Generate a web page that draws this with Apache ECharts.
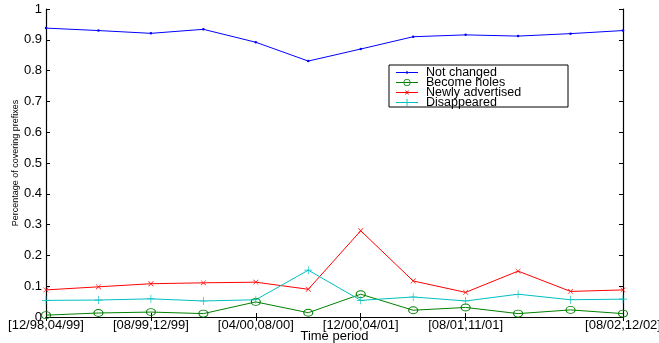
<!DOCTYPE html>
<html><head><meta charset="utf-8">
<script src="https://cdn.jsdelivr.net/npm/echarts@6/dist/echarts.min.js"></script>
<style>html,body{margin:0;padding:0;background:#fff}#c{width:659px;height:343px}</style>
</head><body><div id="c"></div>
<script>
const periods = ['1','2','3','4','5','6','7','8','9','10','11','12'];
const tickIndex = [0, 2, 4, 6, 8, 11];
const tickLabels = ['[12/98,04/99]', '[08/99,12/99]', '[04/00,08/00]', '[12/00,04/01]', '[08/01,11/01]', '[08/02,12/02]'];
const notChanged = [0.938, 0.930, 0.921, 0.934, 0.892, 0.831, 0.870, 0.910, 0.916, 0.912, 0.920, 0.930];
const becomeHoles = [0.006, 0.013, 0.016, 0.011, 0.049, 0.014, 0.074, 0.022, 0.031, 0.011, 0.023, 0.011];
const newlyAdvertised = [0.088, 0.098, 0.108, 0.111, 0.113, 0.090, 0.280, 0.117, 0.080, 0.149, 0.083, 0.088];
const disappeared = [0.054, 0.055, 0.059, 0.052, 0.056, 0.152, 0.054, 0.065, 0.052, 0.074, 0.056, 0.058];
const yTicks = ['0','0.1','0.2','0.3','0.4','0.5','0.6','0.7','0.8','0.9','1'];

const plus = 'path://M4.6,0 L5.4,0 L5.4,4.6 L10,4.6 L10,5.4 L5.4,5.4 L5.4,10 L4.6,10 L4.6,5.4 L0,5.4 L0,4.6 L4.6,4.6 Z';
// legend icons drawn in a 22x8 box (corner specks fix the bounding box)
const box = 'M0,0 L0.01,0 L0,0.01 Z M22,8 L21.99,8 L22,7.99 Z ';
const iconDot = 'path://' + box + 'M0,3.5 L9.8,3.5 L9.8,4.5 L0,4.5 Z M12.2,3.5 L22,3.5 L22,4.5 L12.2,4.5 Z M9.8,4 A1.2,1.2 0 1 0 12.2,4 A1.2,1.2 0 1 0 9.8,4 Z';
const iconRing = 'path://' + box + 'M0,3.5 L7.5,3.5 L7.5,4.5 L0,4.5 Z M14.5,3.5 L22,3.5 L22,4.5 L14.5,4.5 Z M8.3,3.5 L13.7,3.5 L13.7,4.5 L8.3,4.5 Z M7.5,4 A3.5,3.5 0 1 0 14.5,4 A3.5,3.5 0 1 0 7.5,4 Z M8.3,4 A2.7,2.7 0 1 1 13.7,4 A2.7,2.7 0 1 1 8.3,4 Z';
const iconX = 'path://' + box + 'M0,3.5 L10.4,3.5 L10.4,4.5 L0,4.5 Z M11.6,3.5 L22,3.5 L22,4.5 L11.6,4.5 Z ' +
  'M12.9,2.1 L11.64,4 L12.9,5.9 L12.5,6.3 L11,4.64 L9.5,6.3 L9.1,5.9 L10.36,4 L9.1,2.1 L9.5,1.7 L11,3.36 L12.5,1.7 Z';
const iconPlus = 'path://' + box + 'M0,3.55 L22,3.55 L22,4.45 L0,4.45 Z M10.55,0.5 L11.45,0.5 L11.45,3.55 L10.55,3.55 Z M10.55,4.45 L11.45,4.45 L11.45,7.5 L10.55,7.5 Z';

const font = 'Liberation Sans';
const chart = echarts.init(document.getElementById('c'));
const axisLine = {show: true, lineStyle: {color: '#000', width: 1.2}};
const tick = {show: true, inside: true, length: 4, lineStyle: {color: '#000'}};
const colors = ['#0000ff', '#008000', '#ff0000', '#00bfbf'];
chart.setOption({
  animation: false,
  textStyle: {fontFamily: font},
  grid: {left: 46, right: 36, top: 9, bottom: 26, outerBoundsMode: 'none', containLabel: false},
  graphic: [{type: 'rect', shape: {x: 389, y: 65, width: 179, height: 42}, style: {fill: '#fff', stroke: '#000', lineWidth: 1}, z: 100}],
  legend: {
    orient: 'vertical', left: 394, top: 66, itemGap: -3, itemWidth: 22, itemHeight: 8, padding: [0, 2],
    textStyle: {fontSize: 12.5, color: '#000', fontFamily: font, padding: [0, 0, 0, 3]}, z: 101,
    data: [
      {name: 'Not changed', icon: iconDot, itemStyle: {color: colors[0], borderWidth: 0}},
      {name: 'Become holes', icon: iconRing, itemStyle: {color: colors[1], borderWidth: 0}},
      {name: 'Newly advertised', icon: iconX, itemStyle: {color: colors[2], borderWidth: 0}},
      {name: 'Disappeared', icon: iconPlus, itemStyle: {color: colors[3], borderWidth: 0}}
    ]
  },
  xAxis: [{
    type: 'category', data: periods, boundaryGap: false,
    name: 'Time period', nameLocation: 'middle', nameGap: 13, nameMoveOverlap: false,
    nameTextStyle: {fontSize: 13, color: '#000', fontFamily: font},
    axisLine: axisLine,
    axisTick: Object.assign({}, tick, {interval: (i) => tickIndex.includes(i)}),
    axisLabel: {interval: 0, fontSize: 13, color: '#000', margin: 2, fontFamily: font,
      formatter: (v, i) => { const k = tickIndex.indexOf(i); return k >= 0 ? tickLabels[k] : ''; }},
    splitLine: {show: false}
  }, {
    type: 'category', data: periods, boundaryGap: false, position: 'top',
    axisLine: axisLine,
    axisTick: Object.assign({}, tick, {interval: (i) => tickIndex.includes(i)}),
    axisLabel: {show: false}, splitLine: {show: false}
  }],
  yAxis: [{
    type: 'value', min: 0, max: 1, interval: 0.1,
    name: 'Percentage of covering prefixes', nameLocation: 'middle', nameGap: 26, nameMoveOverlap: false,
    nameTextStyle: {fontSize: 9, color: '#000', fontFamily: font},
    axisLine: axisLine, axisTick: tick,
    axisLabel: {fontSize: 13, color: '#000', margin: 4, fontFamily: font,
      formatter: (v) => yTicks[Math.round(v * 10)]},
    splitLine: {show: false}
  }, {
    type: 'value', min: 0, max: 1, interval: 0.1, position: 'right',
    axisLine: axisLine, axisTick: tick,
    axisLabel: {show: false}, splitLine: {show: false}
  }],
  series: [
    {name: 'Not changed', type: 'line', data: notChanged, symbol: 'circle', symbolSize: 2.5,
     itemStyle: {color: colors[0]}, lineStyle: {color: colors[0], width: 1}},
    {name: 'Become holes', type: 'line', data: becomeHoles, symbol: 'circle', symbolSize: [9, 7],
     itemStyle: {color: 'rgba(0,0,0,0)', borderColor: colors[1], borderWidth: 1}, lineStyle: {color: colors[1], width: 1}},
    {name: 'Newly advertised', type: 'line', data: newlyAdvertised, symbol: plus, symbolSize: 7, symbolRotate: 45,
     itemStyle: {color: colors[2]}, lineStyle: {color: colors[2], width: 1}},
    {name: 'Disappeared', type: 'line', data: disappeared, symbol: plus, symbolSize: 8,
     itemStyle: {color: colors[3]}, lineStyle: {color: colors[3], width: 1}}
  ]
});
</script></body></html>
